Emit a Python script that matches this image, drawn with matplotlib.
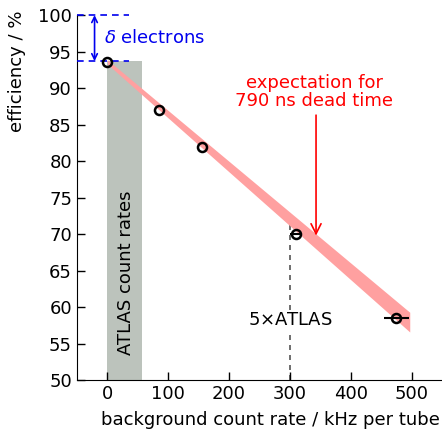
import numpy as np
import matplotlib
matplotlib.use("Agg")
import matplotlib.pyplot as plt

# measured efficiency points
rate = [0, 85, 155, 310, 475]
rate_err = [0, 0, 0, 10, 20]
eff = [93.6, 87.0, 82.0, 70.0, 58.5]

# expectation band for 790 ns dead time
band_x = [0, 497]
band_lo = [93.3, 56.6]
band_hi = [93.9, 59.3]

atlas_range = [0, 57]
eff_max = 100
eff_start = 93.7

plt.rcParams['font.family'] = 'DejaVu Sans'
plt.rcParams['mathtext.fontset'] = 'dejavusans'

fig = plt.figure(figsize=(4.42, 4.32), dpi=100)
ax = fig.add_axes([0.174, 0.120, 0.826, 0.845])

ax.set_xlim(-50, 550)
ax.set_ylim(50, 100)

# ATLAS count rate region
ax.fill_between(atlas_range, 50, eff_start, color='#bcc3bc', lw=0, zorder=1)
ax.text(31, 53.4, "ATLAS count rates", rotation=90,
        ha='center', va='bottom', fontsize=13, zorder=2)

# expectation band
ax.fill_between(band_x, band_lo, band_hi, color='#ffa0a0', lw=0, zorder=2)

# 5x ATLAS line
ax.plot([300, 300], [50, 72], ls=(0, (3, 3)), color='#555555', lw=1.2, zorder=1)
ax.text(300, 58.2, r"5$\times$ATLAS", ha='center', va='center', fontsize=13,
        bbox=dict(facecolor='white', edgecolor='none', pad=1), zorder=3)

# delta electrons
for yv in [eff_max, eff_start]:
    ax.plot([-50, 35], [yv, yv], ls=(0, (4, 3)), color='#0000ee', lw=1.2,
            clip_on=False, zorder=3)
ax.annotate("", xy=(-21, eff_start), xytext=(-21, eff_max),
            arrowprops=dict(arrowstyle='<->', color='#0000ee', lw=1.2,
                            shrinkA=0, shrinkB=0))
ax.text(-5, 96.8, r"$\delta$ electrons", color='#0000ee', fontsize=13,
        ha='left', va='center')

# expectation annotation
ax.text(340, 89.5, "expectation for\n790 ns dead time", color='#ff0000',
        fontsize=13, ha='center', va='center', linespacing=1.0)
ax.annotate("", xy=(343, 69.8), xytext=(343, 86.3),
            arrowprops=dict(arrowstyle='->', color='#ff0000', lw=1.2,
                            shrinkA=0, shrinkB=0, mutation_scale=18))

ax.errorbar(rate, eff, xerr=rate_err, fmt='o', ms=6.5, mfc='none', mec='black',
            mew=1.8, ecolor='black', elinewidth=1.5, capsize=0, zorder=5)

ax.set_xticks([0, 100, 200, 300, 400, 500])
ax.set_yticks([50, 55, 60, 65, 70, 75, 80, 85, 90, 95, 100])
ax.tick_params(direction='in', length=6, labelsize=13, width=1)
ax.spines['top'].set_visible(False)
ax.spines['right'].set_visible(False)

ax.set_xlabel("background count rate / kHz per tube", fontsize=13, loc='right')
ax.xaxis.set_label_coords(0.995, -0.085)
ax.set_ylabel("efficiency / %", fontsize=13, loc='top')
ax.yaxis.set_label_coords(-0.14, 1.012)

fig.savefig("out.png", dpi=100)
